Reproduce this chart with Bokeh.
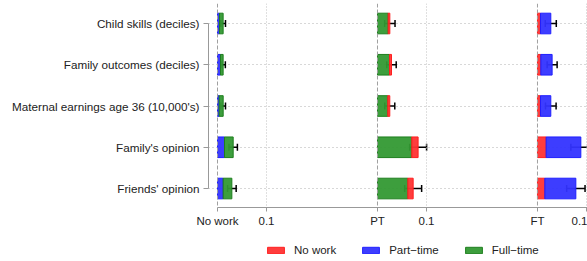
from bokeh.plotting import figure
from bokeh.layouts import column
from bokeh.models import (Range1d, FixedTicker, Legend, LegendItem, Span, Whisker,
                          ColumnDataSource)
from bokeh.embed import file_html
from bokeh.resources import INLINE

# ---- data ----
categories = ["Child skills (deciles)", "Family outcomes (deciles)",
              "Maternal earnings age 36 (10,000's)", "Family's opinion", "Friends' opinion"]
panels = ["No work", "PT", "FT"]
panel_offsets = [0.0, 0.3265, 0.653]

# No work panel: part-time then full-time
nw_part = [0.0040, 0.0061, 0.0034, 0.0143, 0.0116]
nw_full = [0.0075, 0.0054, 0.0082, 0.0177, 0.0177]
nw_ci = [0.0048, 0.0045, 0.0047, 0.0086, 0.0088]

# PT panel: full-time then no work
pt_full = [0.0218, 0.0245, 0.0210, 0.0700, 0.0619]
pt_nowork = [0.0034, 0.0041, 0.0041, 0.0129, 0.0109]
pt_ci = [0.0106, 0.0096, 0.0102, 0.0173, 0.0173]

# FT panel: no work then part-time
ft_nowork = [0.0061, 0.0068, 0.0061, 0.0177, 0.0150]
ft_part = [0.0211, 0.0231, 0.0211, 0.0708, 0.0633]
ft_ci = [0.0112, 0.0102, 0.0108, 0.0204, 0.0188]

tick_labels = ["No work", "0.1", "PT", "0.1", "FT", "0.1"]
legend_labels = ["No work", "Part\u2212time", "Full\u2212time"]

RED, RED_L = "#ff3333", "#ff1f1f"
BLUE, BLUE_L = "#3333ff", "#1f1fff"
GREEN, GREEN_L = "#339933", "#1e7f1e"
FONT = "Liberation Sans"

n = len(categories)
ypos = [n - i for i in range(n)]  # top = 5

p = figure(frame_width=379, frame_height=204, output_backend="svg", toolbar_location=None,
           x_range=Range1d(-0.01837, 0.7551), y_range=Range1d(0.54, 5.485),
           min_border_left=208, min_border_right=0, min_border_top=3,
           min_border_bottom=24)
p.outline_line_color = None
p.background_fill_color = "white"

# grids
p.xgrid.visible = False
p.ygrid.ticker = FixedTicker(ticks=ypos)
p.ygrid.grid_line_color = "#b0b0b0"
p.ygrid.grid_line_dash = "1 3"
p.ygrid.grid_line_width = 1

for off in panel_offsets:
    p.add_layout(Span(location=off, dimension="height", line_color="#a0a0a0",
                      line_dash="4 2", line_width=1))
    p.add_layout(Span(location=off + 0.1, dimension="height", line_color="#c0c0c0",
                      line_dash="1 2", line_width=1))

h = 0.5


def bars(fig, ys, left, width, color, lcolor):
    rights = [a + b for a, b in zip(left, width)]
    return fig.hbar(y=ys, left=left, right=rights, height=h, fill_color=color,
                    fill_alpha=0.95, line_color=lcolor, line_width=1)


# No work panel
o = panel_offsets[0]
bars(p, ypos, [o] * n, nw_part, BLUE, BLUE_L)
bars(p, ypos, [o + a for a in nw_part], nw_full, GREEN, GREEN_L)
nw_tot = [o + a + b for a, b in zip(nw_part, nw_full)]

# PT panel
o = panel_offsets[1]
bars(p, ypos, [o] * n, pt_full, GREEN, GREEN_L)
bars(p, ypos, [o + a for a in pt_full], pt_nowork, RED, RED_L)
pt_tot = [o + a + b for a, b in zip(pt_full, pt_nowork)]

# FT panel
o = panel_offsets[2]
bars(p, ypos, [o] * n, ft_nowork, RED, RED_L)
bars(p, ypos, [o + a for a in ft_nowork], ft_part, BLUE, BLUE_L)
ft_tot = [o + a + b for a, b in zip(ft_nowork, ft_part)]

# error bars
for tot, ci in [(nw_tot, nw_ci), (pt_tot, pt_ci), (ft_tot, ft_ci)]:
    src = ColumnDataSource(dict(y=ypos, lo=[t - c for t, c in zip(tot, ci)],
                                hi=[t + c for t, c in zip(tot, ci)]))
    w = Whisker(source=src, base="y", lower="lo", upper="hi", dimension="width",
                line_color="black", line_width=1.5)
    for head in (w.upper_head, w.lower_head):
        head.size = 7
        head.line_color = "black"
        head.line_width = 1.5
    p.add_layout(w)

# axes
xt = []
for off in panel_offsets:
    xt += [off, off + 0.1]
p.xaxis.ticker = FixedTicker(ticks=xt)
p.xaxis.major_label_overrides = {t: lab for t, lab in zip(xt, tick_labels)}
p.xaxis.bounds = (0, 1.0)
p.xaxis.axis_line_color = "#999999"
p.xaxis.major_tick_line_color = "#999999"
p.xaxis.major_tick_out = 4
p.xaxis.major_tick_in = 0
p.xaxis.minor_tick_line_color = None
p.xaxis.major_label_text_font = FONT
p.xaxis.major_label_text_font_size = "11.5px"
p.xaxis.major_label_text_color = "#222222"
p.xaxis.major_label_standoff = 3

p.yaxis.ticker = FixedTicker(ticks=ypos)
p.yaxis.major_label_overrides = {y: c for y, c in zip(ypos, categories)}
p.yaxis.bounds = (1, 5)
p.yaxis.axis_line_color = "#999999"
p.yaxis.major_tick_line_color = "#999999"
p.yaxis.major_tick_out = 5
p.yaxis.major_tick_in = 0
p.yaxis.minor_tick_line_color = None
p.yaxis.major_label_text_font = FONT
p.yaxis.major_label_text_font_size = "11.7px"
p.yaxis.major_label_text_color = "#222222"
p.yaxis.major_label_standoff = 4

# ---- legend strip below ----
q = figure(width=587, height=30, output_backend="svg", toolbar_location=None,
           x_range=Range1d(0, 1), y_range=Range1d(0, 1),
           min_border=0, min_border_left=0, min_border_right=0,
           min_border_top=0, min_border_bottom=0)
q.axis.visible = False
q.grid.visible = False
q.outline_line_color = None
# legend proxies lie outside the visible range
lr = bars(q, [-5], [-5], [1], RED, RED_L)
lb = bars(q, [-5], [-5], [1], BLUE, BLUE_L)
lg = bars(q, [-5], [-5], [1], GREEN, GREEN_L)
legend = Legend(items=[LegendItem(label=legend_labels[0], renderers=[lr]),
                       LegendItem(label=legend_labels[1], renderers=[lb]),
                       LegendItem(label=legend_labels[2], renderers=[lg])],
                orientation="horizontal", location=(57, 4),
                glyph_width=21, glyph_height=8, label_standoff=8, spacing=24,
                label_height=14, padding=0, margin=0, border_line_color=None,
                label_text_font=FONT, label_text_font_size="11.5px",
                label_text_color="#222222", background_fill_alpha=0)
q.add_layout(legend, "center")

layout = column(p, q, spacing=0)
open("out.html", "w").write(file_html(layout, INLINE))
